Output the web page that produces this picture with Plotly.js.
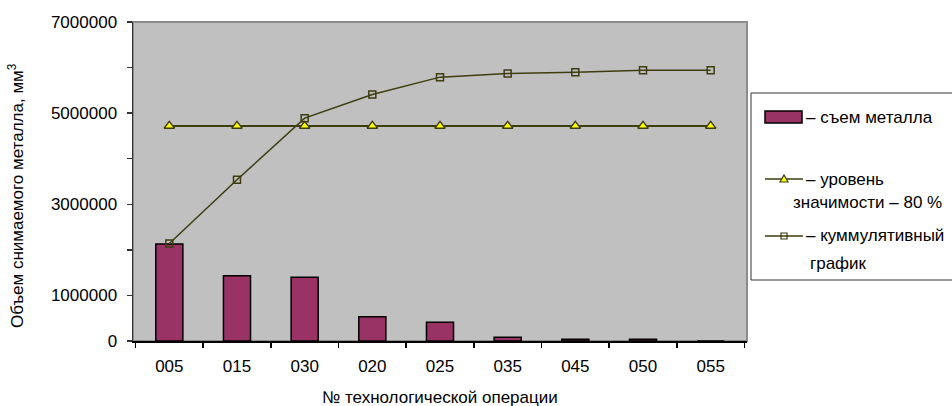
<!DOCTYPE html>
<html>
<head>
<meta charset="utf-8">
<script src="https://cdn.plot.ly/plotly-3.0.1.min.js"></script>
<style>html,body{margin:0;padding:0;background:#fff;}#chart{width:952px;height:406px;}</style>
</head>
<body>
<div id="chart"></div>
<script>
// ---- data ----
const operations = ['005','015','030','020','025','035','045','050','055'];
const metalRemoval = [2130000,1430000,1400000,530000,410000,80000,40000,40000,0];
const significance80 = [4720000,4720000,4720000,4720000,4720000,4720000,4720000,4720000,4720000];
const cumulative = [2140000,3540000,4890000,5410000,5790000,5870000,5900000,5940000,5940000];
const yTickVals = [0,1000000,3000000,5000000,7000000];
const yTickText = ['0','1000000','3000000','5000000','7000000'];
const yMinorTickVals = [2000000,4000000,6000000];
const legendLabels = ['– съем металла','– уровень','значимости – 80 %','– куммулятивный','график'];
const xTitle = '№ технологической операции';
const yTitle = 'Объем снимаемого металла, мм<sup>3</sup>';

// ---- geometry ----
const W = 952, H = 406;
const L = 133, R = 747, T = 22, B = 341;
const pw = R - L, ph = B - T;
const px = x => (x - L) / pw;
const py = y => (B - y) / ph;

const FONT = 'Liberation Sans, Arial, sans-serif';
const OLIVE = '#3d3d10';
const FS = 17;

const traces = [
  {type:'bar', x:operations, y:metalRemoval, width:0.4,
   marker:{color:'#993366', line:{color:'#000', width:1.5}}, showlegend:false, hoverinfo:'skip'},
  {type:'scatter', mode:'lines+markers', x:operations, y:significance80,
   line:{color:OLIVE, width:2},
   marker:{symbol:'triangle-up', size:9, color:'#ffff00', line:{color:OLIVE, width:1.5}},
   showlegend:false, hoverinfo:'skip'},
  {type:'scatter', mode:'lines+markers', x:operations, y:cumulative,
   line:{color:OLIVE, width:1.5},
   marker:{symbol:'square-open', size:7, color:OLIVE, line:{color:OLIVE, width:1.5}},
   showlegend:false, hoverinfo:'skip'}
];

const shapes = [
  // plot border (top/right grey)
  {type:'rect', xref:'paper', yref:'paper', x0:0, x1:1, y0:0, y1:1, line:{color:'#8c8c8c', width:2}, layer:'below'},
  // legend box
  {type:'rect', xref:'paper', yref:'paper', x0:px(751), x1:px(960), y0:py(280), y1:py(93), line:{color:'#333', width:1}, fillcolor:'#fff'},
  // bar swatch
  {type:'rect', xref:'paper', yref:'paper', x0:px(765), x1:px(802), y0:py(123), y1:py(111), line:{color:'#000', width:1.5}, fillcolor:'#993366'},
  // line swatches
  {type:'line', xref:'paper', yref:'paper', x0:px(765), x1:px(803), y0:py(179), y1:py(179), line:{color:OLIVE, width:1.5}},
  {type:'line', xref:'paper', yref:'paper', x0:px(765), x1:px(803), y0:py(236), y1:py(236), line:{color:OLIVE, width:1.5}},
  // triangle symbol
  {type:'path', xref:'paper', yref:'paper', xsizemode:'pixel', ysizemode:'pixel', xanchor:px(784), yanchor:py(179),
   path:'M -4,-3 L 4,-3 L 0,4 Z', fillcolor:'#ffff00', line:{color:OLIVE, width:1.2}},
  // square symbol
  {type:'path', xref:'paper', yref:'paper', xsizemode:'pixel', ysizemode:'pixel', xanchor:px(784), yanchor:py(236),
   path:'M -3,-3 L 3,-3 L 3,3 L -3,3 Z', fillcolor:'rgba(0,0,0,0)', line:{color:OLIVE, width:1.2}}
];

const ann = (text, x, y, xanchor) => ({text, xref:'paper', yref:'paper', x:px(x), y:py(y), xanchor:xanchor||'left', yanchor:'middle', showarrow:false, font:{family:FONT, size:FS, color:'#000'}});

const annotations = [
  ann(legendLabels[0], 804, 117),
  ann(legendLabels[1], 804, 179),
  ann(legendLabels[2], 791, 202),
  ann(legendLabels[3], 804, 236),
  ann(legendLabels[4], 808, 263),
  ann(xTitle, 440, 397, 'center'),
  Object.assign(ann(yTitle, 16, 196, 'center'), {textangle:-90})
];

const layout = {
  width:W, height:H,
  margin:{l:L, r:W-R, t:T, b:H-B, pad:0},
  paper_bgcolor:'#fff', plot_bgcolor:'#c0c0c0',
  font:{family:FONT, size:FS, color:'#000'},
  showlegend:false,
  bargap:0.6,
  xaxis:{type:'category', tickson:'boundaries', ticks:'outside', ticklen:5, tickcolor:'#000', tickwidth:1.5,
         showline:true, linecolor:'#000', linewidth:1.5, showgrid:false, zeroline:false,
         ticklabelstandoff:9, tickfont:{family:FONT, size:FS, color:'#000'}, fixedrange:true},
  yaxis:{range:[0,7000000], tickmode:'array', tickvals:yTickVals, ticktext:yTickText,
         ticks:'outside', ticklen:5, tickcolor:'#333', tickwidth:1.5,
         minor:{tickmode:'array', tickvals:yMinorTickVals, ticks:'outside', ticklen:5, tickcolor:'#333', tickwidth:1.5, showgrid:false},
         showline:true, linecolor:'#333', linewidth:1.5, showgrid:false, zeroline:false,
         ticklabelstandoff:6, tickfont:{family:FONT, size:FS, color:'#000'}, fixedrange:true},
  shapes, annotations
};

Plotly.newPlot('chart', traces, layout, {staticPlot:true, displayModeBar:false});
</script>
</body>
</html>
